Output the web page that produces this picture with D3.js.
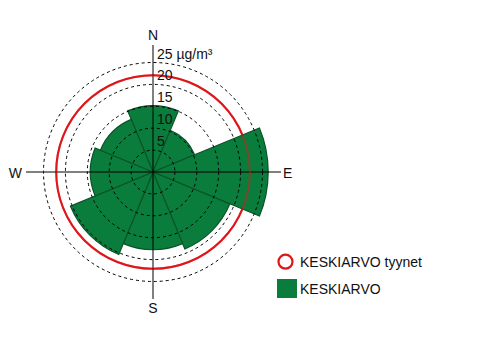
<!DOCTYPE html>
<html>
<head>
<meta charset="utf-8">
<script src="https://cdn.jsdelivr.net/npm/d3@7"></script>
<style>
  html, body { margin: 0; padding: 0; background: #fff; }
  svg { display: block; }
  text { font-family: "Liberation Sans", Arial, sans-serif; }
</style>
</head>
<body>
<div id="chart"></div>
<script>
// Data
const directions = ["N", "NE", "E", "SE", "S", "SW", "W", "NW"];
const keskiarvo = [15.1, 10.3, 26.3, 19.0, 17.7, 20.4, 14.3, 13.0];
const keskiarvoTyynet = 22.1;
const ringTicks = [5, 10, 15, 20, 25];
const ringLabels = ["5", "10", "15", "20", "25 µg/m³"];
const compassLabels = ["N", "E", "S", "W"];
const legendLabels = ["KESKIARVO tyynet", "KESKIARVO"];

const W = 500, H = 350;
const cx = 153, cy = 172;
const green = "#0a7d3d", darkGreen = "#0b5328", red = "#e01519";

const svg = d3.select("#chart").append("svg").attr("width", W).attr("height", H);
const g = svg.append("g").attr("transform", `translate(${cx},${cy})`);

const r = d3.scaleLinear().domain([0, 25]).range([0, 109.5]);
const step = 2 * Math.PI / directions.length;
const arc = d3.arc()
  .innerRadius(0)
  .outerRadius(d => r(d.v))
  .startAngle(d => d.i * step - step / 2)
  .endAngle(d => d.i * step + step / 2);

// red circle underneath
g.append("circle").attr("r", r(keskiarvoTyynet)).attr("fill", "none")
  .attr("stroke", red).attr("stroke-width", 2);

// sectors
g.selectAll("path.sector")
  .data(keskiarvo.map((v, i) => ({ v, i })))
  .join("path")
  .attr("class", "sector")
  .attr("d", arc)
  .attr("fill", green)
  .attr("stroke", darkGreen)
  .attr("stroke-width", 1.2)
  .attr("stroke-linejoin", "miter");

// dashed rings
g.selectAll("circle.ring")
  .data(ringTicks)
  .join("circle")
  .attr("class", "ring")
  .attr("r", d => r(d))
  .attr("fill", "none")
  .attr("stroke", "#000")
  .attr("stroke-width", 1)
  .attr("stroke-dasharray", "3,3");

// axes
g.append("line").attr("x1", 0).attr("x2", 0).attr("y1", -127).attr("y2", 127)
  .attr("stroke", "#000").attr("stroke-width", 1);
g.append("line").attr("x1", -127).attr("x2", 128).attr("y1", 0).attr("y2", 0)
  .attr("stroke", "#000").attr("stroke-width", 1);

// red circle on top, semi-transparent
g.append("circle").attr("r", r(keskiarvoTyynet)).attr("fill", "none")
  .attr("stroke", red).attr("stroke-width", 2).attr("stroke-opacity", 0.5);

// ring labels
g.selectAll("text.ringlabel")
  .data(ringTicks)
  .join("text")
  .attr("class", "ringlabel")
  .attr("x", 4)
  .attr("y", d => -r(d) - 4)
  .attr("font-size", 14)
  .attr("fill", "#111")
  .text((d, i) => ringLabels[i]);

// compass labels
const compassPos = [
  { x: 0, y: -132, anchor: "middle" },
  { x: 130, y: 6, anchor: "start" },
  { x: 0, y: 141, anchor: "middle" },
  { x: -131, y: 6, anchor: "end" }
];
g.selectAll("text.compass")
  .data(compassLabels)
  .join("text")
  .attr("class", "compass")
  .attr("x", (d, i) => compassPos[i].x)
  .attr("y", (d, i) => compassPos[i].y)
  .attr("text-anchor", (d, i) => compassPos[i].anchor)
  .attr("font-size", 14)
  .attr("fill", "#111")
  .text(d => d);

// legend
const lg = svg.append("g");
lg.append("circle").attr("cx", 285.5).attr("cy", 261.7).attr("r", 7)
  .attr("fill", "none").attr("stroke", red).attr("stroke-width", 2.2);
lg.append("rect").attr("x", 277).attr("y", 279).attr("width", 20).attr("height", 19)
  .attr("fill", green);
lg.selectAll("text")
  .data(legendLabels)
  .join("text")
  .attr("x", 300)
  .attr("y", (d, i) => i === 0 ? 267 : 294)
  .attr("font-size", 14)
  .attr("fill", "#111")
  .text(d => d);
</script>
</body>
</html>
